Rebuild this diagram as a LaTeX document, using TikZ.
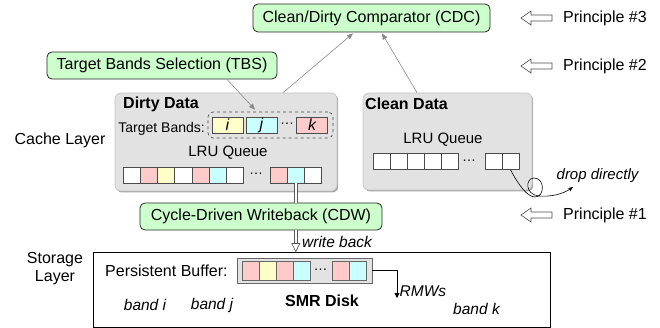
\documentclass[tikz,border=0pt]{standalone}
\usepackage{fontspec}
\setmainfont{Liberation Sans}
\usetikzlibrary{arrows.meta,shadows,calc}
\definecolor{gfill}{HTML}{CCFFCC}
\definecolor{pk}{HTML}{FFCACA}
\definecolor{yl}{HTML}{FFFFCA}
\definecolor{cy}{HTML}{CAFFFF}
\definecolor{bfill}{HTML}{E2E2E2}
\definecolor{bdraw}{HTML}{C4C4C4}
\definecolor{arrgray}{HTML}{8A8A8A}
\newcommand{\fsz}[1]{\fontsize{#1}{#1}\selectfont}
\tikzset{
  greenbox/.style={draw=black!85, fill=gfill, rounded corners=5pt, line width=0.8pt, inner sep=0pt, font=\fsz{16}},
  graybox/.style={draw=bdraw, fill=bfill, rounded corners=6pt, line width=0.6pt, inner sep=0pt,
    drop shadow={shadow xshift=1.2pt, shadow yshift=-1.5pt, fill=gray!70, opacity=1}},
  cell/.style={draw=black!70, line width=0.5pt, minimum width=17.2pt, minimum height=16pt, inner sep=0pt},
  bcell/.style={draw=black!60, line width=0.5pt, minimum width=17pt, minimum height=19pt, inner sep=0pt},
  tcell/.style={draw=black!70, line width=0.5pt, minimum width=31pt, minimum height=16pt, inner sep=0pt, font=\fsz{16}\itshape},
  garrow/.style={draw=arrgray, line width=0.6pt, -{Triangle[width=5pt,length=6pt]}},
  dbl/.style={draw=gray!70!black, double=white, double distance=2.4pt, line width=0.6pt},
  txt/.style={inner sep=0pt, font=\fsz{16}},
  itx/.style={inner sep=0pt, font=\fsz{15.5}\itshape},
  parrow/.style={draw=black!70, fill=white, line width=0.6pt},
  dotsnode/.style={inner sep=0pt, font=\fsz{14}}
}
\begin{document}
\begin{tikzpicture}[x=1pt,y=-1pt]
\useasboundingbox (0,0) rectangle (660,328);

% top boxes
\node[greenbox, minimum width=237pt, minimum height=28pt] (cdc) at (371.5,18) {Clean/Dirty Comparator (CDC)};
\node[greenbox, minimum width=230pt, minimum height=27pt] (tbs) at (162,65.5) {Target Bands Selection (TBS)};

% principles
\foreach \yy/\n in {18/3,66/2,215/1}{
  \draw[parrow] (521,\yy) -- (531,\yy-7) -- (531,\yy-3) -- (552,\yy-3) -- (552,\yy+3) -- (531,\yy+3) -- (531,\yy+7) -- cycle;
  \node[txt, anchor=west] (pr\n) at (563,\yy) {Principle \#\n};
}

% cache layer
\node[txt] (cachel) at (60,140) {Cache Layer};
\node[graybox, minimum width=222pt, minimum height=98pt] (dirty) at (226,142) {};
\node[graybox, minimum width=169pt, minimum height=97pt] (clean) at (447.5,141.5) {};
\node[txt, anchor=west, font=\fsz{16}\bfseries] (dirtyt) at (123,104) {Dirty Data};
\node[txt, anchor=west, font=\fsz{16}\bfseries] (cleant) at (365,104) {Clean Data};

% target bands
\node[txt, anchor=east, font=\fsz{14}] (tbt) at (205,129) {Target Bands:};
\node[draw=black!70, dashed, rounded corners=5pt, minimum width=125pt, minimum height=26pt, line width=0.7pt] (tb) at (270.5,125) {};
\node[tcell, fill=yl] (tbi) at (227.5,125) {i};
\node[tcell, fill=cy] (tbj) at (261.5,125) {j};
\node[dotsnode] (tbd) at (287,124) {\dots};
\node[tcell, fill=pk] (tbk) at (312,125) {k};

% dirty LRU queue
\node[txt, font=\fsz{15}] (dlru) at (228,153) {LRU Queue};
\foreach \c [count=\k from 0] in {white,pk,yl,white,pk,cy,white}
  \node[cell, fill=\c] (dq\k) at ({131.6+17.2*\k},175) {};
\node[dotsnode] (dqd) at (256,174) {\dots};
\node[cell, fill=pk] (dq7) at (278.6,175) {};
\node[cell, fill=cy] (dq8) at (295.8,175) {};
\node[cell, fill=white] (dq9) at (313,175) {};

% clean LRU queue
\node[txt, font=\fsz{15}] (clru) at (443,140) {LRU Queue};
\foreach \k in {0,...,4}
  \node[cell, fill=white, minimum width=17pt] (cq\k) at ({381.5+17*\k},161.5) {};
\node[dotsnode] (cqd) at (469,160.5) {\dots};
\node[cell, fill=white, minimum width=17pt] (cq5) at (493.5,161.5) {};
\node[cell, fill=white, minimum width=17pt] (cq6) at (510.5,161.5) {};

% gray arrows
\draw[garrow] ([xshift=65pt]tbs.south) -- ([xshift=-15.5pt,yshift=2pt]tb.north);
\draw[garrow] ([xshift=57pt]dirty.north) -- ([xshift=-18.5pt,yshift=-1pt]cdc.south);
\draw[garrow] ([xshift=-30.5pt]clean.north) -- ([xshift=10.5pt,yshift=-1pt]cdc.south);

% drop directly
\coordinate (dropend) at (573,187);
\draw[line width=0.6pt, -{Stealth[length=5pt,width=4pt]}] (cq6.south)
  .. controls (518,184) and (527,197) .. (535,197)
  .. controls (545,197) and (545,178) .. (534,178)
  .. controls (525,178) and (525,195) .. (539,196)
  .. controls (551,197) and (563,194) .. (dropend);
\node[itx, font=\fsz{15}\itshape] (dropt) at (597.5,176) {drop directly};

% CDW
\node[greenbox, minimum width=242pt, minimum height=27pt] (cdw) at (261,216.5) {Cycle-Driven Writeback (CDW)};

% storage
\node[txt, align=center] (storl) at (55,268.5) {Storage\\[2pt]Layer};
\node[draw=black, fill=white, line width=0.9pt, minimum width=457pt, minimum height=75pt, inner sep=0pt] (smr) at (321.5,289.5) {};
\node[txt, anchor=west] (pbt) at (105,270.5) {Persistent Buffer:};
\node[draw=black!60, fill=gray!22, line width=0.7pt, minimum width=135pt, minimum height=25pt, inner sep=0pt] (pb) at (304.5,270.5) {};
\foreach \c/\xx [count=\k] in {pk/250.5,yl/267.5,pk/284.5,cy/301.5,pk/340.5,cy/357.5}
  \node[bcell, fill=\c] (pbc\k) at (\xx,270.5) {};
\node[dotsnode] (pbd) at (320.5,269.5) {\dots};
\node[txt, font=\fsz{16}\bfseries] (smrt) at (322,301) {SMR Disk};
\node[itx] (bi) at (145,305) {band i};
\node[itx] (bj) at (212,305) {band j};
\node[itx] (bk) at (476.5,309) {band k};

% RMWs
\coordinate (rmwend) at (397,298);
\draw[line width=0.8pt, -{Triangle[width=5pt,length=5pt]}] (pb.east) -| (rmwend);
\node[itx, anchor=west] (rmw) at (399.5,291.5) {RMWs};

% write back double arrow
\draw[dbl] (dq8.south) -- (dq8.south |- cdw.north);
\draw[dbl] (dq8.south |- cdw.south) -- ($(dq8.south |- smr.north)+(0,-7.5)$);
\draw[draw=gray!70!black, fill=white, line width=0.6pt] (dq8.south |- smr.north) -- ++(-4,-8) -- ++(8,0) -- cycle;
\node[itx, anchor=west] (wb) at (302,242) {write back};
\end{tikzpicture}
\end{document}
